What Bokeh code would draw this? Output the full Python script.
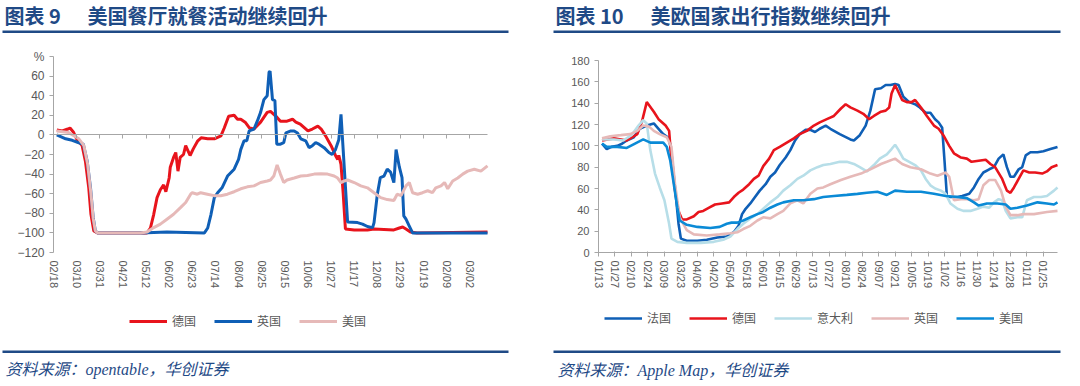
import math
from bokeh.plotting import figure
from bokeh.models import (FixedTicker, LinearAxis, Range1d, Legend, LegendItem, Label, BoxAnnotation)
from bokeh.layouts import row
from bokeh.embed import file_html
from bokeh.resources import INLINE

# ---------------- Chart 9 data: days since 2020-02-18, % change ----------------
left_tick_days = [0, 21, 42, 63, 84, 105, 126, 147, 168, 189, 210, 231, 252, 273, 294, 315, 336, 357, 378]
left_tick_labels = ["02/18", "03/10", "03/31", "04/21", "05/12", "06/02", "06/23", "07/14", "08/04",
                    "08/25", "09/15", "10/06", "10/27", "11/17", "12/08", "12/29", "01/19", "02/09", "03/02"]

de9_x = [3, 8, 13, 15, 18, 21, 26, 29, 32, 34, 36.6, 40, 85, 88, 91, 94, 97, 100, 102, 105, 106, 109, 111,
         113, 115, 118, 120, 122, 124, 127, 131, 134, 140, 146, 152, 155, 159, 164, 167, 170, 174, 178, 182,
         188, 194, 197, 202, 206, 212, 217, 220, 224, 231, 235, 240, 243, 247, 252, 256, 258, 259, 261, 263,
         265, 273, 285, 291, 309, 314, 317, 320, 324, 330, 394]
de9_y = [5, 4, 6, 7, 3, -4, -11, -27, -54, -81, -98, -100, -100, -95, -81, -64, -56, -51, -58, -44, -33, -23,
         -18, -37, -23, -20, -11, -16, -21, -14, -6, -3, -4, -4, -1, 7, 19, 20, 16, 16, 13, 7, 6, 13, 23, 24, 19,
         14, 14, 16, 13, 11, 4, 6, 9, 6, -1, -11, -21, -25, -21, -30, -60, -96, -97, -97, -96, -97, -95, -94,
         -96, -99, -100, -99]

uk9_x = [3, 11, 17, 23, 27, 30.6, 33.6, 36, 38, 40, 79, 103, 137, 140, 143, 146, 149, 153, 158, 164, 168, 170,
         173, 175.5, 177.6, 182, 185, 188, 191, 194, 195.7, 196.6, 198.8, 201, 202.7, 206, 209, 211, 215.5, 218.5,
         221.5, 224.5, 229, 232, 235, 238, 241, 245.7, 250, 253, 256, 259, 261, 267, 276, 280.5, 285, 289.7,
         291, 294, 296.7, 300, 303, 306, 309, 311, 314, 316.4, 318, 320, 323, 326, 394]
uk9_y = [0, -4, -5.5, -8, -9.5, -27, -54, -84, -98, -100, -100, -99, -100, -95, -81, -64, -59, -54, -42, -35,
         -25, -15, -6, -6, 4, 6, 14, 23, 36, 40, 64, 65, 36, 35, -9.5, -9.5, -8, 2, 4, 4, 2, -4, -6, -13, -11, -8,
         -9.5, -13, -18, -20, -15, -5, 21, -89, -89.5, -91, -93.5, -94.6, -89.5, -60.5, -43.5, -42, -35, -38,
         -48.6, -15, -33, -43.5, -82.6, -86, -93, -100, -100]

us9_x = [3, 13.6, 23, 27.6, 31, 34, 36, 38, 40, 79, 85, 91, 97, 103, 109, 115.5, 120, 124.5, 126, 130.6, 133.6,
         139.7, 145.7, 151.8, 157.9, 164, 170, 176, 182, 188, 194, 197, 200, 203, 206, 209, 212, 218.5, 224.5,
         230.6, 236.7, 242.7, 248.8, 254.8, 258, 261, 264, 267, 273, 279, 285, 291, 297, 303, 309, 312, 315.5,
         320, 323, 326, 330.6, 335, 339.7, 344, 347, 351.8, 355, 357.9, 362.4, 367, 371.5, 376, 382, 388, 394]
us9_y = [4, 2.4, -4, -11, -30, -60, -85, -98, -100, -100, -99, -94.6, -91, -86, -81, -74, -69, -60.5, -59,
         -60.5, -59, -60.5, -62, -62, -60.5, -58, -55, -53, -52, -48.6, -47, -46, -42, -30.6, -40, -48.6, -46,
         -44, -42, -41.5, -40, -39.6, -40, -42, -44, -48.6, -47, -46, -48.6, -52, -54, -59, -64, -66, -67, -60.5,
         -62, -52, -48.6, -59, -60.5, -59, -57, -59, -54, -52, -48.6, -55, -47, -44, -40, -37, -35, -37, -31.6]

# ---------------- Chart 10 data: days since 2020-01-13, index ----------------
right_tick_days = list(range(0, 379, 14))
right_tick_labels = ["01/13", "01/27", "02/10", "02/24", "03/09", "03/23", "04/06", "04/20", "05/04",
                     "05/18", "06/01", "06/15", "06/29", "07/13", "07/27", "08/10", "08/24", "09/07",
                     "09/21", "10/05", "10/19", "11/02", "11/16", "11/30", "12/14", "12/28", "01/11", "01/25"]

fr_x = [3, 7, 11, 16, 20, 24, 30, 35, 41, 47, 51, 55, 60, 62, 65, 68, 70, 75, 84, 92, 101, 109, 115, 119, 122,
        125, 129, 133, 137, 142, 146, 150, 154, 159, 163, 167, 171, 176, 180, 184, 188, 193, 197, 205, 214, 217,
        222, 227, 231, 235, 240, 244, 248, 252, 255, 259, 264, 269, 273, 278, 282, 286, 289, 292, 294, 296, 299,
        305, 309, 315, 319, 323, 327, 332, 336, 340, 344, 347, 350, 353, 357, 360, 363, 367, 373, 378, 384, 390]
fr_y = [102, 97, 99, 100, 102, 105, 108, 116, 119, 121, 116, 111, 107, 93, 61, 27, 13, 11, 11, 12, 14, 15, 19,
        25, 36, 41, 46, 52, 58, 64, 71, 75, 82, 89, 96, 105, 111, 115, 115, 113, 116, 119, 116, 111, 106, 105,
        110, 119, 133, 153, 154, 157, 157, 158, 157, 146, 141, 139, 136, 131, 131, 125, 122, 117, 86, 53, 52, 52,
        53, 55, 61, 69, 75, 78, 80, 88, 92, 80, 71, 71, 78, 80, 91, 94, 94, 95, 97, 99]

de_x = [3, 13, 24, 33, 37, 41, 43, 47, 51, 57, 60, 62, 65, 68, 71, 75, 81, 85, 89, 94, 99, 105, 111, 115, 119,
        123, 128, 132, 136, 140, 145, 149, 154, 160, 166, 171, 177, 183, 188, 194, 200, 206, 210, 214, 220, 225,
        230, 234, 240, 244, 247, 249, 252, 255, 258, 262, 266, 269, 274, 279, 285, 289, 293, 298, 302, 308, 313,
        317, 323, 329, 333, 337, 343, 347, 350, 353, 357, 361, 366, 371, 377, 381, 385, 390]
de_y = [105, 107, 105, 111, 123, 141, 138, 132, 125, 119, 114, 86, 58, 39, 31, 31, 34, 38, 39, 42, 45, 46, 47,
        52, 56, 59, 64, 69, 72, 81, 88, 96, 99, 103, 107, 111, 114, 119, 122, 125, 128, 135, 139, 136, 133, 130,
        125, 128, 132, 133, 136, 149, 157, 150, 143, 141, 141, 143, 136, 128, 119, 116, 110, 100, 93, 89, 88, 85,
        86, 87, 83, 80, 69, 58, 56, 61, 69, 77, 75, 75, 74, 76, 80, 82]

it_x = [3, 13, 21, 28, 34, 38, 41, 44, 48, 52, 56, 60, 62, 67, 75, 87, 98, 106, 112, 118, 123, 129, 135, 140,
        146, 152, 157, 163, 169, 174, 180, 186, 191, 197, 205, 211, 217, 222, 228, 234, 239, 245, 249, 252, 255,
        259, 264, 269, 274, 278, 282, 286, 291, 295, 299, 305, 310, 316, 322, 327, 332, 336, 340, 343, 346, 350,
        356, 360, 364, 370, 376, 381, 387, 390]
it_y = [106, 106, 105, 110, 119, 124, 121, 96, 74, 61, 49, 27, 13, 10, 9, 9, 10, 12, 15, 22, 27, 32, 36, 41,
        47, 52, 58, 63, 69, 72, 77, 80, 82, 83, 85, 85, 83, 80, 76, 82, 88, 92, 97, 101, 96, 88, 85, 82, 77, 69,
        63, 60, 58, 55, 46, 41, 39, 39, 41, 43, 42, 47, 50, 49, 39, 32, 33, 33, 49, 52, 52, 53, 58, 61]

gb_x = [3, 10, 19, 27, 33, 38, 43, 47, 52, 58, 62, 65, 69, 75, 81, 92, 103, 112, 118, 123, 129, 135, 140, 146,
        152, 157, 163, 169, 174, 180, 186, 191, 197, 206, 214, 223, 231, 240, 245, 252, 258, 265, 274, 282, 288,
        295, 298, 302, 308, 313, 319, 323, 327, 332, 337, 342, 346, 350, 356, 361, 370, 381, 390]
gb_y = [107, 109, 110, 111, 114, 119, 118, 114, 111, 108, 99, 64, 33, 21, 17, 16, 17, 18, 19, 22, 25, 30, 33, 32,
        36, 39, 46, 49, 46, 55, 60, 61, 64, 68, 71, 74, 78, 83, 85, 88, 83, 80, 78, 74, 72, 75, 71, 49, 50, 50,
        49, 50, 63, 68, 68, 58, 43, 35, 35, 36, 36, 38, 39]

us_x = [3, 7, 16, 24, 31, 38, 44, 50, 55, 58, 61, 64, 67, 69, 75, 84, 95, 103, 109, 113, 118, 123, 129, 135,
        140, 146, 152, 157, 166, 174, 183, 191, 200, 211, 220, 228, 237, 245, 252, 262, 274, 285, 295, 305, 313,
        319, 323, 330, 339, 346, 350, 356, 364, 373, 381, 387, 390]
us_y = [102, 99, 99, 98, 102, 106, 103, 103, 103, 99, 86, 64, 42, 30, 26, 24, 23, 24, 27, 28, 28, 30, 33, 36,
        38, 42, 45, 47, 49, 49, 50, 52, 53, 54, 55, 56, 57, 54, 58, 57, 57, 55, 53, 52, 51, 47, 44, 46, 46, 45,
        41, 42, 44, 47, 46, 45, 47]

# ---------------- styling ----------------
NAVY = "#1F4A86"
AXIS = "#A6A6A6"
TXT = "#595959"
CJK = "Noto Sans CJK SC"
W, H = 540, 386


class Panel:
    """A figure whose frame fills the canvas; plot area placed by pixel box."""

    def __init__(self, d0, d1, v0, v1, left, right, top, bottom):
        kx = (right - left) / (d1 - d0)
        ky = (bottom - top) / (v1 - v0)
        self.kx, self.ky = kx, ky
        self.x0 = d0 - left / kx
        self.x1 = d0 + (W - left) / kx
        self.y1 = v1 + top / ky
        self.y0 = v1 - (H - top) / ky
        p = figure(width=W, height=H, output_backend="svg", toolbar_location=None,
                   x_range=Range1d(self.x0, self.x1), y_range=Range1d(self.y0, self.y1),
                   min_border=0, min_border_left=0, min_border_right=0,
                   min_border_top=0, min_border_bottom=0)
        p.outline_line_color = None
        p.xgrid.visible = False
        p.ygrid.visible = False
        self.p = p

    def X(self, ix):
        return self.x0 + ix / self.kx

    def Y(self, iy):
        return self.y1 - iy / self.ky


def decorate(pn, num, num_x, text, text_x, foot, foot_x, foot_y, rule_l, rule_r):
    p = pn.p
    for t, tx in ((num, num_x), (text, text_x)):
        p.add_layout(Label(x=pn.X(tx), y=pn.Y(15), text=t, text_font=CJK, text_font_style="bold",
                           text_font_size="20px", text_color=NAVY, text_baseline="middle"))
    for iy in (30, 350):
        p.add_layout(BoxAnnotation(left=pn.X(rule_l), right=pn.X(rule_r), top=pn.Y(iy), bottom=pn.Y(iy + 2.5),
                                   fill_color=NAVY, fill_alpha=1, line_color=None))
    p.add_layout(Label(x=pn.X(foot_x), y=pn.Y(foot_y), text=foot, text_font="Liberation Serif, " + CJK,
                       text_font_style="italic", text_font_size="16px", text_color=NAVY,
                       text_baseline="middle"))


def style_yaxis(ax, size):
    ax.axis_line_color = AXIS
    ax.major_tick_line_color = AXIS
    ax.major_tick_out = 4
    ax.major_tick_in = 0
    ax.minor_tick_line_color = None
    ax.major_label_text_color = TXT
    ax.major_label_text_font = "Liberation Sans"
    ax.major_label_text_font_size = size
    ax.major_label_standoff = 5


def style_xlabels(ax, standoff):
    ax.major_label_orientation = -math.pi / 2
    ax.minor_tick_line_color = None
    ax.major_label_standoff = standoff
    ax.major_label_text_color = TXT
    ax.major_label_text_font = "Liberation Sans"
    ax.major_label_text_font_size = "11px"


def make_legend(p, items, loc):
    lg = Legend(items=items, location=loc, orientation="horizontal",
                glyph_width=38, glyph_height=12, label_height=12, label_standoff=5,
                spacing=18, padding=0, margin=0, border_line_alpha=0, background_fill_alpha=0,
                label_text_font=CJK, label_text_font_size="12px", label_text_color=TXT)
    p.add_layout(lg)


# ---------------- Chart 9 ----------------
L = Panel(0, 394, -120, 80, 53, 487, 56, 252)
p1 = L.p
xa = p1.xaxis[0]
xa.fixed_location = -120
xa.bounds = (0, 394)
xa.ticker = FixedTicker(ticks=left_tick_days)
xa.major_label_overrides = {d: s for d, s in zip(left_tick_days, left_tick_labels)}
xa.axis_line_color = None
xa.major_tick_line_color = None
xa.major_tick_out = 0
xa.major_tick_in = 0
style_xlabels(xa, 8)

zero_ax = LinearAxis(fixed_location=0, bounds=(0, 394), ticker=FixedTicker(ticks=left_tick_days),
                     major_label_overrides={d: "" for d in left_tick_days},
                     axis_line_color=AXIS, major_tick_line_color=AXIS,
                     major_tick_out=4, major_tick_in=0, minor_tick_line_color=None,
                     major_label_text_font_size="1px", major_label_standoff=0)
p1.add_layout(zero_ax, "below")

ya = p1.yaxis[0]
ya.fixed_location = 0
ya.bounds = (-120, 80)
ya.ticker = FixedTicker(ticks=list(range(-120, 81, 20)))
ya.major_label_overrides = {80: "%"}
style_yaxis(ya, "12px")

r_de9 = p1.line(de9_x, de9_y, line_color="#E8141C", line_width=3)
r_uk9 = p1.line(uk9_x, uk9_y, line_color="#0F5FB6", line_width=3)
r_us9 = p1.line(us9_x, us9_y, line_color="#E6B9B8", line_width=3)
make_legend(p1, [LegendItem(label="德国", renderers=[r_de9]),
                 LegendItem(label="英国", renderers=[r_uk9]),
                 LegendItem(label="美国", renderers=[r_us9])], (129, H - 329))
decorate(L, "图表 9", 4, "美国餐厅就餐活动继续回升", 87,
         "资料来源：opentable，华创证券", 5, 369, 2, 508)

# ---------------- Chart 10 ----------------
R = Panel(0, 390, 0, 180, 58, 517, 60, 252)
p2 = R.p
xb = p2.xaxis[0]
xb.fixed_location = 0
xb.bounds = (0, 390)
xb.ticker = FixedTicker(ticks=right_tick_days)
xb.major_label_overrides = {d: s for d, s in zip(right_tick_days, right_tick_labels)}
xb.axis_line_color = AXIS
xb.major_tick_line_color = AXIS
xb.major_tick_out = 4
xb.major_tick_in = 1
style_xlabels(xb, 4)

yb = p2.yaxis[0]
yb.fixed_location = 0
yb.bounds = (0, 180)
yb.ticker = FixedTicker(ticks=list(range(0, 181, 20)))
style_yaxis(yb, "11px")

r_fr = p2.line(fr_x, fr_y, line_color="#0F5FB6", line_width=2.6)
r_de = p2.line(de_x, de_y, line_color="#E8141C", line_width=2.6)
r_it = p2.line(it_x, it_y, line_color="#B7DEE8", line_width=2.6)
r_gb = p2.line(gb_x, gb_y, line_color="#E6B9B8", line_width=2.6)
r_us = p2.line(us_x, us_y, line_color="#0A8AD6", line_width=2.6)
make_legend(p2, [LegendItem(label="法国", renderers=[r_fr]),
                 LegendItem(label="德国", renderers=[r_de]),
                 LegendItem(label="意大利", renderers=[r_it]),
                 LegendItem(label="英国", renderers=[r_gb]),
                 LegendItem(label="美国", renderers=[r_us])], (64, H - 326))
decorate(R, "图表 10", 15, "美欧国家出行指数继续回升", 110,
         "资料来源：Apple Map，华创证券", 17, 370, 13, 520)

layout = row(p1, p2, spacing=0)
open("out.html", "w").write(file_html(layout, INLINE))
